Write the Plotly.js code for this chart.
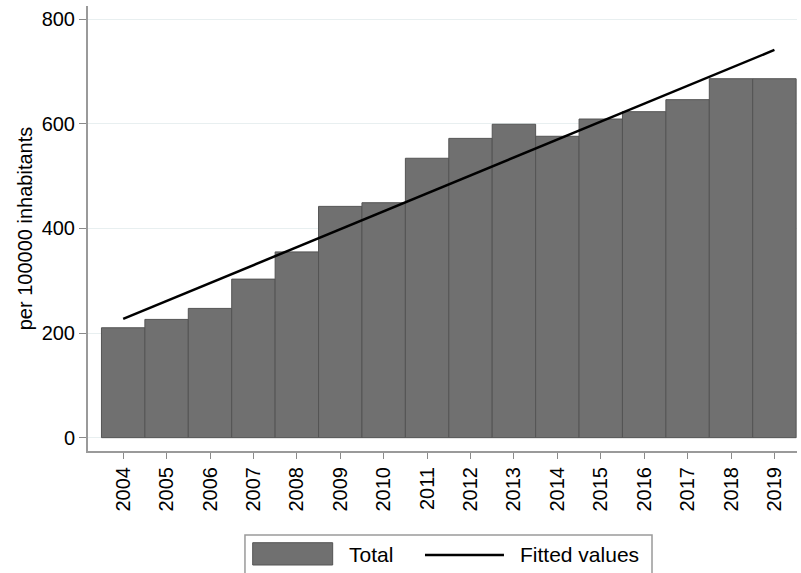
<!DOCTYPE html>
<html>
<head>
<meta charset="utf-8">
<script src="https://cdn.plot.ly/plotly-3.0.1.min.js"></script>
<style>html,body{margin:0;padding:0;background:#fff;}#chart{width:801px;height:573px;}</style>
</head>
<body>
<div id="chart"></div>
<script>
const years = [2004, 2005, 2006, 2007, 2008, 2009, 2010, 2011, 2012, 2013, 2014, 2015, 2016, 2017, 2018, 2019];
const totalValues = [210, 226, 247, 303, 355, 442, 449, 534, 572, 599, 576, 609, 623, 646, 686, 686];
const fittedYears = [2004, 2019];
const fittedValues = [227, 741];
const yTicks = [0, 200, 400, 600, 800];
const legendLabels = ['Total', 'Fitted values'];

const barColor = '#707070';
const barEdge = '#545454';
const axisColor = '#9a9a9a';

const traces = [
  {
    type: 'bar', x: years, y: totalValues, name: legendLabels[0],
    marker: {color: barColor, line: {color: barEdge, width: 1}},
    width: 1
  },
  {
    type: 'scatter', mode: 'lines', x: fittedYears, y: fittedValues, name: legendLabels[1],
    line: {color: '#000000', width: 2.5}
  }
];

// Legend drawn as a Stata-style box below the plot (paper coordinates)
const shapes = [
  {type: 'rect', xref: 'paper', yref: 'paper', x0: 0.2214, x1: 0.7955, y0: -0.34, y1: -0.1888,
   line: {color: axisColor, width: 1.5}, fillcolor: 'rgba(0,0,0,0)'},
  {type: 'rect', xref: 'paper', yref: 'paper', x0: 0.2323, x1: 0.3451, y0: -0.2562, y1: -0.2061,
   line: {color: barEdge, width: 1}, fillcolor: barColor},
  {type: 'line', xref: 'paper', yref: 'paper', x0: 0.4753, x1: 0.5867, y0: -0.2337, y1: -0.2337,
   line: {color: '#000000', width: 2.5}}
];
const annotations = [
  {xref: 'paper', yref: 'paper', x: 0.3657, y: -0.2337, xanchor: 'left', yanchor: 'middle',
   text: legendLabels[0], showarrow: false, font: {size: 21, color: '#000'}},
  {xref: 'paper', yref: 'paper', x: 0.6065, y: -0.2337, xanchor: 'left', yanchor: 'middle',
   text: legendLabels[1], showarrow: false, font: {size: 21, color: '#000'}}
];

const layout = {
  width: 801, height: 573,
  margin: {l: 88, r: 4, t: 6, b: 122, autoexpand: false},
  paper_bgcolor: '#ffffff', plot_bgcolor: '#ffffff',
  font: {family: 'Liberation Sans, Arial, sans-serif', color: '#000'},
  bargap: 0,
  showlegend: false,
  xaxis: {
    range: [2003.19, 2019.52],
    tickmode: 'array', tickvals: years, ticktext: years.map(String),
    tickangle: -90, tickfont: {size: 20},
    ticks: 'outside', ticklen: 6, tickcolor: '#8a8a8a', tickwidth: 1,
    showline: true, linecolor: axisColor, linewidth: 2,
    showgrid: false, zeroline: false, automargin: false
  },
  yaxis: {
    range: [-25.5, 825],
    tickmode: 'array', tickvals: yTicks,
    tickfont: {size: 20},
    ticks: 'outside', ticklen: 7, tickcolor: '#8a8a8a', tickwidth: 1,
    showline: true, linecolor: axisColor, linewidth: 2,
    showgrid: true, gridcolor: '#e8eff0', gridwidth: 1,
    zeroline: false, automargin: false,
    title: {text: 'per 100000 inhabitants', font: {size: 20}, standoff: 4}
  },
  shapes: shapes,
  annotations: annotations
};

Plotly.newPlot('chart', traces, layout, {displayModeBar: false, staticPlot: true});
</script>
</body>
</html>
